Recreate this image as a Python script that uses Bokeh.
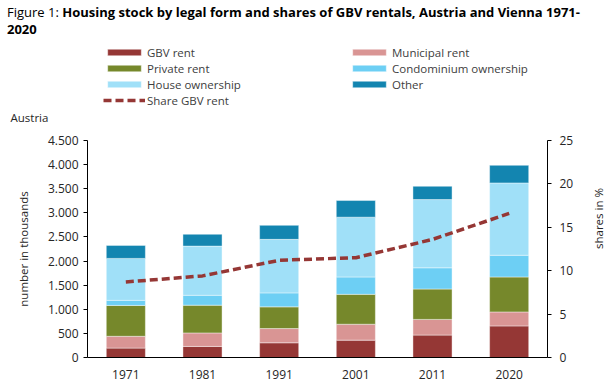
import math
from bokeh.plotting import figure
from bokeh.models import (ColumnDataSource, Range1d, LinearAxis, Legend, LegendItem,
                          Label, Div, CustomJSTickFormatter, FixedTicker)
from bokeh.layouts import column
from bokeh.embed import file_html
from bokeh.resources import INLINE

years = ["1971", "1981", "1991", "2001", "2011", "2020"]
gbv_rent = [195, 230, 305, 360, 465, 655]
municipal_rent = [245, 280, 295, 330, 325, 290]
private_rent = [640, 575, 450, 620, 630, 725]
condominium = [105, 205, 290, 360, 440, 450]
house_ownership = [870, 1020, 1110, 1240, 1415, 1500]
other = [270, 245, 290, 345, 275, 365]
share_gbv = [8.7, 9.4, 11.2, 11.5, 13.6, 16.6]

series_names = ["GBV rent", "Municipal rent", "Private rent",
                "Condominium ownership", "House ownership", "Other"]
series_keys = ["gbv", "mun", "priv", "condo", "house", "other"]
colors = ["#953735", "#D99594", "#76882B", "#6DCFF4", "#A0E0F8", "#1385B0"]
LINE_COLOR = "#953735"

FONT = "Open Sans"
TXT = "#262626"

DIV_H = 44      # title block
LEG_H = 86      # legend block
MAIN_H = 383 - DIV_H - LEG_H
SHIFT = 6       # left offset of the main chart canvas


def no_align(fig):
    try:
        fig.frame_align = False
    except Exception:
        pass


# ---------------- main chart ----------------
src = ColumnDataSource(dict(years=years, gbv=gbv_rent, mun=municipal_rent,
                            priv=private_rent, condo=condominium,
                            house=house_ownership, other=other))
lsrc = ColumnDataSource(dict(years=years, share=share_gbv))

p = figure(x_range=years, y_range=Range1d(0, 4500), width=616 - SHIFT, height=MAIN_H,
           output_backend="svg", toolbar_location=None,
           min_border_left=87 - SHIFT, min_border_right=53, min_border_top=10,
           min_border_bottom=26, margin=(0, 0, 0, SHIFT))
no_align(p)
p.extra_y_ranges = {"share": Range1d(0, 25)}
p.outline_line_color = None
p.xgrid.grid_line_color = None
p.ygrid.grid_line_color = None

bar_kw = dict(line_color="white", line_width=0.6, line_alpha=0.7)
bars = p.vbar_stack(series_keys, x="years", width=0.51, source=src, color=colors, **bar_kw)
line_kw = dict(line_color=LINE_COLOR, line_width=3.5, line_dash="8 4")
p.line(x="years", y="share", source=lsrc, y_range_name="share", **line_kw)

ya = p.yaxis[0]
ya.ticker = FixedTicker(ticks=list(range(0, 4501, 500)))
ya.formatter = CustomJSTickFormatter(
    code="return tick.toString().replace(/\\B(?=(\\d{3})+(?!\\d))/g, '.');")
ya.axis_label = "number in thousands"
ya.axis_label_standoff = 14
ya.major_label_standoff = 5

ra = LinearAxis(y_range_name="share", ticker=FixedTicker(ticks=[0, 5, 10, 15, 20, 25]),
                axis_label="shares in %")
ra.major_label_standoff = 8
ra.axis_label_standoff = 22
try:
    ra.axis_label_orientation = math.pi / 2
except Exception:
    pass
p.add_layout(ra, "right")

xa = p.xaxis[0]
xa.major_label_standoff = 8

for ax in [ya, ra, xa]:
    ax.axis_line_color = "black"
    ax.major_tick_line_color = "black"
    ax.minor_tick_line_color = None
    ax.major_tick_out = 4
    ax.major_tick_in = 0
    ax.major_label_text_font = FONT
    ax.major_label_text_font_size = "12px"
    ax.major_label_text_color = TXT
    ax.axis_label_text_font = FONT
    ax.axis_label_text_font_size = "11.5px"
    ax.axis_label_text_font_style = "normal"
    ax.axis_label_text_color = TXT
xa.major_tick_line_color = None

# ---------------- legend block ----------------
lg = figure(x_range=Range1d(0, 1), y_range=Range1d(0, 1), width=616, height=LEG_H,
            output_backend="svg", toolbar_location=None,
            x_axis_location=None, y_axis_location=None,
            min_border_left=0, min_border_right=0, min_border_top=0, min_border_bottom=0)
no_align(lg)
lg.outline_line_color = None
lg.xgrid.grid_line_color = None
lg.ygrid.grid_line_color = None

# swatch-only renderers (NaN data: nothing drawn in the frame, only legend keys)
blank = ColumnDataSource(dict(x=[float("nan")], top=[float("nan")]))
swatches = [lg.vbar(x="x", top="top", width=0.5, source=blank, color=c, **bar_kw)
            for c in colors]
lswatch = lg.line(x="x", y="top", source=blank, **line_kw)

items = [LegendItem(label=series_names[0], renderers=[swatches[0]]),
         LegendItem(label=series_names[2], renderers=[swatches[2]]),
         LegendItem(label=series_names[4], renderers=[swatches[4]]),
         LegendItem(label="Share GBV rent", renderers=[lswatch]),
         LegendItem(label=series_names[1], renderers=[swatches[1]]),
         LegendItem(label=series_names[3], renderers=[swatches[3]]),
         LegendItem(label=series_names[5], renderers=[swatches[5]])]
legend = Legend(items=items, location=(103, LEG_H - 64), orientation="vertical", ncols=2,
                border_line_color=None, background_fill_alpha=0,
                padding=0, margin=0, spacing=0, label_height=16, label_width=201,
                glyph_height=8, glyph_width=42, label_standoff=2,
                label_text_font=FONT, label_text_font_size="11.5px",
                label_text_color="#404040")
lg.add_layout(legend)

lg.add_layout(Label(x=10, y=LEG_H - 73, x_units="screen", y_units="screen",
                    text="Austria", text_font=FONT, text_font_size="11.5px",
                    text_color=TXT, text_baseline="middle"))

# ---------------- title block ----------------
title_html = ('<div style="font-family:\'Open Sans\';font-size:13px;line-height:17px;'
              'padding:4px 0 0 7px;color:#000;white-space:nowrap;">'
              'Figure 1: <b>Housing stock by legal form and shares of GBV rentals, '
              'Austria and Vienna 1971-<br>2020</b></div>')
div = Div(text=title_html, width=616, height=DIV_H, margin=(0, 0, 0, 0))

layout = column(div, lg, p, spacing=0)
open("out.html", "w").write(file_html(layout, INLINE))
